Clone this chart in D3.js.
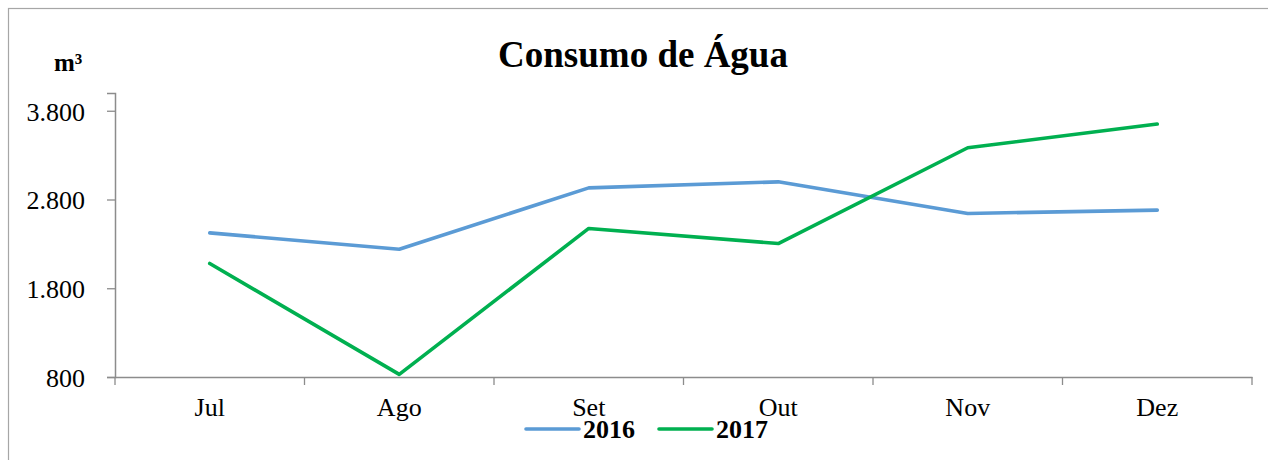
<!DOCTYPE html>
<html>
<head>
<meta charset="utf-8">
<script src="https://cdn.jsdelivr.net/npm/d3@7"></script>
<style>
  body { margin: 0; background: #fff; }
  svg { display: block; font-family: "Liberation Serif", "Times New Roman", serif; }
</style>
</head>
<body>
<div id="chart"></div>
<script>
// data
var months = ["Jul", "Ago", "Set", "Out", "Nov", "Dez"];
var seriesNames = ["2016", "2017"];
var values2016 = [2424, 2240, 2931, 2999, 2643, 2680];
var values2017 = [2079, 830, 2474, 2304, 3383, 3650];
var yTicks = [800, 1800, 2800, 3800];

var config = {
	width : 1268,
	height : 460,
	left : 115,
	right : 1252,
	top : 93,
	bottom : 377,
	colors : ["#5B9BD5", "#00B050"],
	axisColor : "#8c8c8c"
};

var ptBR = d3.formatLocale({decimal: ",", thousands: ".", grouping: [3], currency: ["R$", ""]});
var fmt = ptBR.format(",d");

var svg = d3.select("#chart").append("svg")
	.attr("width", config.width)
	.attr("height", config.height);

// outer frame (clipped on right / bottom like the source)
svg.append("rect")
	.attr("x", 8.5).attr("y", 8.5)
	.attr("width", 1400).attr("height", 600)
	.attr("fill", "none")
	.attr("stroke", "#a6a6a6")
	.attr("stroke-width", 1.2);

var x = d3.scaleBand()
	.domain(months)
	.range([config.left, config.right])
	.padding(0);

var y = d3.scaleLinear()
	.domain([800, 4000])
	.range([config.bottom, config.top]);

// y axis
var yAxis = svg.append("g")
	.attr("transform", "translate(" + config.left + ",0)")
	.call(d3.axisLeft(y).tickValues(yTicks).tickFormat(fmt).tickSize(8).tickPadding(22));

// x axis
var xAxis = svg.append("g")
	.attr("transform", "translate(0," + config.bottom + ")")
	.call(d3.axisBottom(x).tickSize(0).tickPadding(21));

// category boundary ticks
svg.append("g").selectAll("line")
	.data(months.map(function(m){ return x(m); }).concat([config.right]))
	.join("line")
	.attr("x1", function(d){ return d; })
	.attr("x2", function(d){ return d; })
	.attr("y1", config.bottom)
	.attr("y2", config.bottom + 8)
	.attr("stroke", config.axisColor)
	.attr("stroke-width", 1.3);

[yAxis, xAxis].forEach(function(g){
	g.select(".domain").attr("stroke", config.axisColor).attr("stroke-width", 1.5);
	g.selectAll(".tick line").attr("stroke", config.axisColor).attr("stroke-width", 1.3);
	g.selectAll(".tick text")
		.attr("fill", "#000")
		.attr("font-size", "26px")
		.attr("font-family", "Liberation Serif, Times New Roman, serif");
});
yAxis.selectAll(".tick text").attr("dy", "0.36em");

// lines
var line = d3.line()
	.x(function(d, i){ return x(months[i]) + x.bandwidth() / 2; })
	.y(function(d){ return y(d); });

var series = [values2016, values2017];

svg.append("g").selectAll("path")
	.data(series)
	.join("path")
	.attr("d", line)
	.attr("fill", "none")
	.attr("stroke", function(d, i){ return config.colors[i]; })
	.attr("stroke-width", 3.6)
	.attr("stroke-linejoin", "round")
	.attr("stroke-linecap", "round");

// title
svg.append("text")
	.attr("x", 643)
	.attr("y", 67)
	.attr("text-anchor", "middle")
	.attr("font-size", "37px")
	.attr("font-weight", "bold")
	.text("Consumo de Água");

// unit label
svg.append("text")
	.attr("x", 54)
	.attr("y", 71)
	.attr("font-size", "25px")
	.attr("font-weight", "bold")
	.text("m³");

// legend
var legendX = [526, 659];
var legend = svg.append("g").selectAll("g")
	.data(seriesNames)
	.join("g")
	.attr("transform", function(d, i){ return "translate(" + legendX[i] + ",429)"; });

legend.append("line")
	.attr("x1", 0).attr("x2", 53)
	.attr("stroke", function(d, i){ return config.colors[i]; })
	.attr("stroke-width", 3.6)
	.attr("stroke-linecap", "round");

legend.append("text")
	.attr("x", 57)
	.attr("y", 9)
	.attr("font-size", "26px")
	.attr("font-weight", "bold")
	.text(function(d){ return d; });
</script>
</body>
</html>
